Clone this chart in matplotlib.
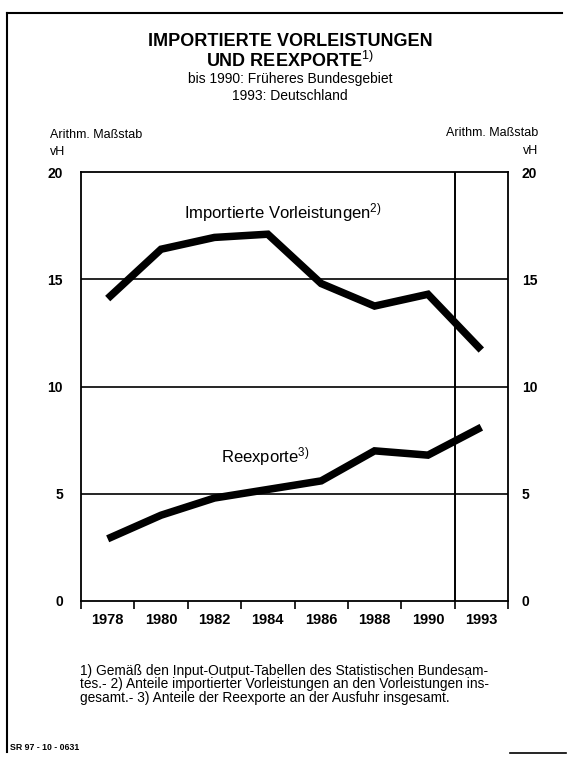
import matplotlib
matplotlib.use("Agg")
import matplotlib.pyplot as plt
from matplotlib.lines import Line2D

plt.rcParams['font.family'] = ['Liberation Sans', 'DejaVu Sans']
plt.rcParams['mathtext.fontset'] = 'custom'
plt.rcParams['mathtext.rm'] = 'Liberation Sans'
plt.rcParams['mathtext.it'] = 'Liberation Sans'
plt.rcParams['mathtext.bf'] = 'Liberation Sans:bold'

years = ["1978", "1980", "1982", "1984", "1986", "1988", "1990", "1993"]
importierte = [14.1, 16.4, 16.95, 17.1, 14.8, 13.75, 14.3, 11.7]
reexporte = [2.9, 4.0, 4.8, 5.2, 5.6, 7.0, 6.8, 8.1]
y_ticks = [0, 5, 10, 15, 20]

W, H = 570, 758
fig = plt.figure(figsize=(W / 100, H / 100), dpi=100)

def fx(x):
    return x / W

def fy(y):
    return 1 - y / H

ax = fig.add_axes([fx(81), fy(601), (508 - 81) / W, (601 - 172) / H])
xs = list(range(len(years)))
ax.plot(xs, importierte, color='black', lw=5.4, solid_capstyle='butt', solid_joinstyle='miter')
ax.plot(xs, reexporte, color='black', lw=5.4, solid_capstyle='butt', solid_joinstyle='miter')
ax.set_xlim(-0.5, len(years) - 0.5)
ax.set_ylim(0, 20)
for v in [5, 10, 15]:
    ax.axhline(v, color='black', lw=1.2)
ax.axvline(6.5, color='black', lw=1.4)

for s in ax.spines.values():
    s.set_linewidth(1.3)
    s.set_color('black')

ax.set_xticks([i - 0.5 for i in range(len(years) + 1)])
ax.set_xticklabels([])
ax.tick_params(axis='x', which='major', direction='out', length=6, width=1.2)
ax.set_xticks(xs, minor=True)
ax.set_xticklabels(years, minor=True, fontsize=10.5, fontweight='bold')
ax.tick_params(axis='x', which='minor', length=0, pad=9)

ax.set_yticks(y_ticks)
ax.set_yticklabels([str(v) for v in y_ticks], fontsize=10, fontweight='bold')
ax.tick_params(axis='y', length=0, pad=13)

ax2 = ax.twinx()
ax2.set_ylim(0, 20)
ax2.set_yticks(y_ticks)
ax2.set_yticklabels([str(v) for v in y_ticks], fontsize=10, fontweight='bold')
ax2.tick_params(axis='y', length=0, pad=10)
for s in ax2.spines.values():
    s.set_visible(False)

ax.text(3.28, 18.1, r"Importierte Vorleistungen$^{2)}$", fontsize=12, ha='center', va='center')
ax.text(2.95, 6.75, r"Reexporte$^{3)}$", fontsize=12, ha='center', va='center')

# Titles
fig.text(fx(290), fy(42), "IMPORTIERTE VORLEISTUNGEN", fontsize=13, fontweight='bold', ha='center', va='center')
fig.text(fx(290), fy(61), r"UND REEXPORTE$^{1)}$", fontsize=13, fontweight='bold', ha='center', va='center')
fig.text(fx(290), fy(79), "bis 1990: Früheres Bundesgebiet", fontsize=10, ha='center', va='center')
fig.text(fx(290), fy(96), "1993: Deutschland", fontsize=10, ha='center', va='center')

fig.text(fx(50), fy(135), "Arithm. Maßstab", fontsize=9, ha='left', va='center')
fig.text(fx(50), fy(152), "vH", fontsize=9, ha='left', va='center')
fig.text(fx(538), fy(133), "Arithm. Maßstab", fontsize=9, ha='right', va='center')
fig.text(fx(538), fy(151), "vH", fontsize=9, ha='right', va='center')

foot_lines = ["1) Gemäß den Input-Output-Tabellen des Statistischen Bundesam-",
              "tes.- 2) Anteile importierter Vorleistungen an den Vorleistungen ins-",
              "gesamt.- 3) Anteile der Reexporte an der Ausfuhr insgesamt."]
for i, line in enumerate(foot_lines):
    fig.text(fx(80), fy(671 + 13.3 * i), line, fontsize=9.9, ha='left', va='center')

fig.text(fx(10), fy(747), "SR 97 - 10 - 0631", fontsize=6.3, fontweight='bold', ha='left', va='center')

# page border
fig.add_artist(Line2D([fx(7), fx(7)], [fy(13), fy(752)], color='black', lw=1.5, transform=fig.transFigure))
fig.add_artist(Line2D([fx(7), fx(562)], [fy(13), fy(13)], color='black', lw=1.5, transform=fig.transFigure))
fig.add_artist(Line2D([fx(510), fx(566)], [fy(753), fy(753)], color='black', lw=1.2, transform=fig.transFigure))

fig.savefig("out.png", dpi=100, facecolor='white')
